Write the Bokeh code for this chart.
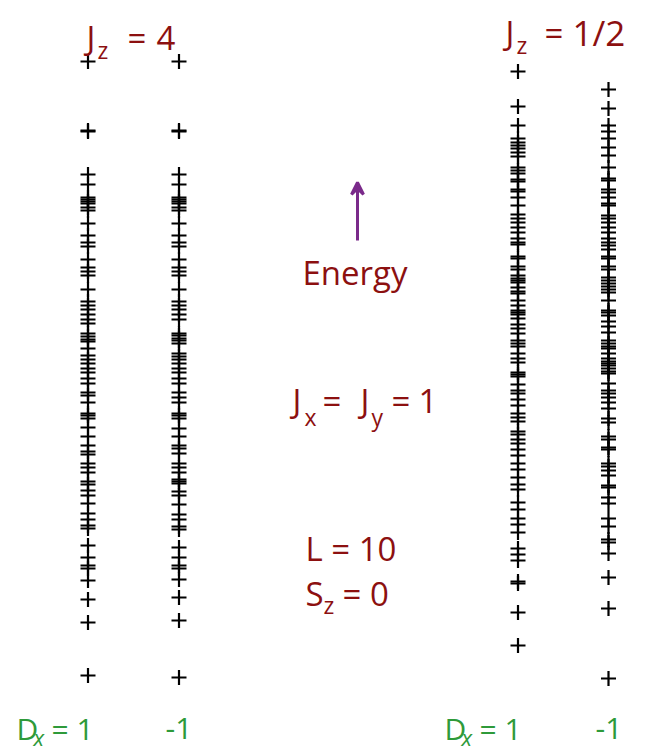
from bokeh.plotting import figure
from bokeh.models import Range1d, Label, Arrow, VeeHead
from bokeh.embed import file_html
from bokeh.resources import INLINE

# Energy levels (arbitrary units)
jz4_dx_plus = [63.9, 57.0, 56.9, 52.6, 51.6, 50.3, 50.1, 49.9, 49.7, 49.3, 49.0, 47.7, 46.5, 45.8,
               45.4, 44.1, 43.3, 42.9, 42.5, 41.1, 39.9, 39.5, 39.1, 38.6, 38.1, 37.7, 36.7, 36.4,
               36.1, 35.9, 35.2, 34.5, 34.1, 33.7, 33.2, 32.8, 32.2, 31.7, 30.8, 30.5, 29.8, 28.7,
               28.5, 28.2, 27.3, 26.4, 25.5, 24.9, 24.6, 23.7, 23.3, 22.8, 21.9, 21.6, 21.0, 20.5,
               19.7, 18.7, 18.1, 17.5, 17.2, 15.5, 14.3, 13.5, 13.2, 12.0, 10.1, 7.8, 2.5]
jz4_dx_minus = [63.9, 57.0, 56.9, 52.6, 51.6, 50.3, 50.1, 49.9, 49.7, 49.3, 49.0, 47.7, 46.5, 45.8,
                45.4, 44.1, 43.3, 42.9, 42.5, 41.1, 39.9, 39.5, 39.1, 38.6, 38.1, 36.7, 36.5, 36.2,
                36.0, 35.7, 34.7, 34.4, 34.1, 33.7, 33.2, 32.8, 32.2, 31.7, 30.8, 30.3, 29.8, 28.7,
                28.5, 28.2, 27.2, 26.4, 25.5, 25.2, 24.7, 23.7, 23.3, 22.8, 22.1, 21.9, 21.7, 20.9,
                20.5, 19.6, 18.6, 18.1, 17.4, 17.1, 15.3, 14.3, 13.5, 13.2, 12.1, 10.3, 8.0, 2.3]
jzhalf_dx_plus = [62.9, 59.4, 57.5, 56.2, 55.8, 55.5, 55.2, 54.8, 54.4, 53.3, 53.0, 52.7, 52.1, 51.9,
                  51.1, 50.9, 50.3, 49.5, 48.6, 48.2, 47.8, 47.3, 46.8, 46.2, 45.8, 45.6, 44.4, 44.2,
                  43.4, 43.1, 42.5, 42.2, 42.0, 41.8, 41.3, 40.9, 40.7, 40.0, 39.5, 39.0, 38.8, 38.6,
                  38.2, 37.6, 37.2, 36.7, 36.0, 35.7, 35.4, 34.7, 34.2, 33.8, 32.8, 32.6, 32.4, 31.6,
                  31.0, 30.7, 30.1, 29.5, 28.7, 28.3, 27.9, 26.9, 26.6, 26.1, 25.7, 25.1, 24.5, 23.7,
                  23.1, 22.3, 21.6, 21.1, 19.8, 19.1, 18.2, 17.6, 16.8, 15.2, 14.6, 14.0, 11.9, 11.7,
                  8.8, 5.5]
jzhalf_dx_minus = [61.1, 59.2, 57.5, 56.9, 56.2, 55.3, 54.5, 53.3, 52.2, 52.0, 51.1, 50.8, 50.3, 49.7,
                   49.5, 48.5, 48.2, 47.8, 47.3, 46.8, 46.2, 45.8, 45.5, 45.1, 44.4, 44.2, 43.4, 43.1,
                   42.3, 42.0, 41.7, 41.4, 41.1, 40.8, 40.0, 39.0, 38.8, 38.5, 37.9, 37.4, 36.8, 36.0,
                   35.7, 35.4, 35.2, 34.7, 34.2, 33.9, 33.7, 33.5, 33.2, 32.9, 32.7, 31.7, 31.0, 30.7,
                   30.3, 29.8, 29.2, 28.2, 27.8, 26.4, 26.1, 25.3, 25.1, 23.7, 23.4, 23.0, 22.5, 21.5,
                   21.3, 20.3, 19.7, 18.2, 17.4, 16.1, 15.8, 14.7, 12.3, 9.2, 2.2]

series = [jz4_dx_plus, jz4_dx_minus, jzhalf_dx_plus, jzhalf_dx_minus]
column_x = [87.5, 178.5, 517.5, 608.0]

W, H = 650, 752
p = figure(width=W, height=H, output_backend="svg", toolbar_location=None,
           x_range=Range1d(0, 650), y_range=Range1d(-5.2, 70.0),
           min_border=0, outline_line_color=None)
p.axis.visible = False
p.grid.visible = False
p.background_fill_color = "white"
p.border_fill_color = "white"

for xs, levels in zip(column_x, series):
    p.scatter(x=[xs] * len(levels), y=levels, marker="cross", size=15,
              line_color="black", line_width=2.2)

RED = "#8c1010"
GREEN = "#2e9a3a"
FONT = "Open Sans"


def txt(s, X, Y, size, color=RED, style="normal"):
    # X, Y are page pixel positions (baseline)
    p.add_layout(Label(x=X, y=H - Y, x_units="screen", y_units="screen", text=s,
                       text_font=FONT, text_font_size=f"{size}px", text_color=color,
                       text_baseline="alphabetic", text_align="left", text_font_style=style))


# J_z = 4
txt("J", 86, 37, 33)
txt("z", 97, 49, 23)
txt("=", 127, 37, 33)
txt("4", 156, 37, 33)
# J_z = 1/2
txt("J", 505, 32, 33)
txt("z", 516, 44, 23)
txt("=", 544, 32, 33)
txt("1/2", 572, 32, 35)
# Energy
txt("Energy", 302, 272, 33)
# J_x = J_y = 1
txt("J", 292, 400, 33)
txt("x", 304, 416, 23)
txt("=", 322, 400, 33)
txt("J", 360, 400, 33)
txt("y", 371, 416, 23)
txt("=", 391, 400, 33)
txt("1", 418, 400, 33)
# L = 10, S_z = 0
txt("L = 10", 305, 548, 33)
txt("S", 305, 593, 33)
txt("z", 323, 604, 23)
txt("= 0", 342, 593, 33)
# D_x labels
txt("D", 16, 728, 30, GREEN)
txt("x", 33, 736, 22, GREEN, "italic")
txt("= 1", 51, 728, 30, GREEN)
txt("-1", 165, 728, 30, GREEN)
txt("D", 444, 728, 30, GREEN)
txt("x", 461, 736, 22, GREEN, "italic")
txt("= 1", 479, 728, 30, GREEN)
txt("-1", 595, 728, 30, GREEN)

# Energy arrow
p.add_layout(Arrow(x_start=357, y_start=46.0, x_end=357, y_end=51.8,
                   line_color="#7a2a8a", line_width=3,
                   end=VeeHead(size=12, line_color="#7a2a8a", line_width=3,
                               fill_color="#7a2a8a")))

open("out.html", "w").write(file_html(p, INLINE))
